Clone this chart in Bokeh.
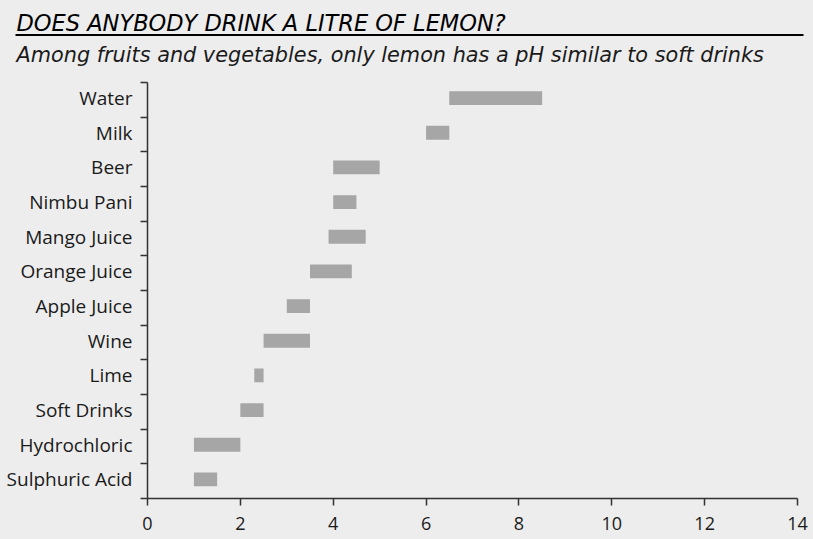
from bokeh.plotting import figure
from bokeh.layouts import column
from bokeh.models import Range1d, FixedTicker
from bokeh.core.properties import value
from bokeh.embed import file_html
from bokeh.resources import INLINE

# ---- data (pH ranges) ----
categories = ["Water", "Milk", "Beer", "Nimbu Pani", "Mango Juice", "Orange Juice",
              "Apple Juice", "Wine", "Lime", "Soft Drinks", "Hydrochloric", "Sulphuric Acid"]
ph_low = [6.5, 6.0, 4.0, 4.0, 3.9, 3.5, 3.0, 2.5, 2.3, 2.0, 1.0, 1.0]
ph_high = [8.5, 6.5, 5.0, 4.5, 4.7, 4.4, 3.5, 3.5, 2.5, 2.5, 2.0, 1.5]
x_ticks = [0, 2, 4, 6, 8, 10, 12, 14]
title_text = "DOES ANYBODY DRINK A LITRE OF LEMON?"
subtitle_text = "Among fruits and vegetables, only lemon has a pH similar to soft drinks"

BG = "#ededed"
BAR = "#a6a6a6"
INK = "#1a1a1a"
AX = "#333333"
W = 813
HEAD_H = 81
CHART_H = 539 - HEAD_H

# ---- header: title, rule, subtitle (pixel coordinate space) ----
head = figure(width=W, height=HEAD_H, output_backend="svg", toolbar_location=None,
              x_range=Range1d(0, W), y_range=Range1d(HEAD_H, 0),
              x_axis_type=None, y_axis_type=None, min_border=0)
head.frame_align = False
head.background_fill_color = BG
head.border_fill_color = BG
head.outline_line_color = None
head.xgrid.visible = False
head.ygrid.visible = False
head.text(x=[16], y=[22.5], text=[title_text], text_baseline="alphabetic", text_align="left",
          text_font=value("DejaVu Sans"), text_font_style="italic", text_font_size="22.5px",
          text_color="black")
head.segment(x0=[15], y0=[34.5], x1=[803], y1=[34.5], line_color="black", line_width=2)
head.text(x=[16], y=[54.5], text=[subtitle_text], text_baseline="alphabetic", text_align="left",
          text_font=value("DejaVu Sans"), text_font_style="italic", text_font_size="20.8px",
          text_color=INK)

# ---- chart ----
n = len(categories)
ypos = [n - 0.45 - i for i in range(n)]

p = figure(width=W, height=CHART_H, output_backend="svg", toolbar_location=None,
           x_range=Range1d(0, 14), y_range=Range1d(0, n),
           min_border_left=147, min_border_right=16, min_border_top=1, min_border_bottom=41)
p.frame_align = False
p.background_fill_color = BG
p.border_fill_color = BG
p.outline_line_color = None
p.xgrid.visible = False
p.ygrid.visible = False

p.hbar(y=ypos, left=ph_low, right=ph_high, height=0.4, fill_color=BAR, line_color=None)

xa = p.xaxis[0]
xa.ticker = FixedTicker(ticks=x_ticks, minor_ticks=[])
xa.major_tick_out = 7
xa.major_tick_in = 0
xa.minor_tick_out = 0
xa.axis_line_color = AX
xa.axis_line_width = 1.5
xa.major_tick_line_color = AX
xa.major_tick_line_width = 1.5
xa.major_label_text_font = "Open Sans"
xa.major_label_text_font_size = "18px"
xa.major_label_text_color = INK
xa.major_label_standoff = 11

ya = p.yaxis[0]
ya.ticker = FixedTicker(ticks=ypos, minor_ticks=list(range(n + 1)))
ya.major_label_overrides = {float(y): c for y, c in zip(ypos, categories)}
ya.major_tick_out = 0
ya.major_tick_in = 0
ya.minor_tick_out = 7
ya.minor_tick_in = 0
ya.minor_tick_line_color = AX
ya.minor_tick_line_width = 1.5
ya.axis_line_color = AX
ya.axis_line_width = 1.5
ya.major_label_text_font = "Open Sans"
ya.major_label_text_font_size = "19px"
ya.major_label_text_color = INK
ya.major_label_standoff = 8

layout = column(head, p, spacing=0, styles={"background-color": BG})
open("out.html", "w").write(file_html(layout, INLINE))
